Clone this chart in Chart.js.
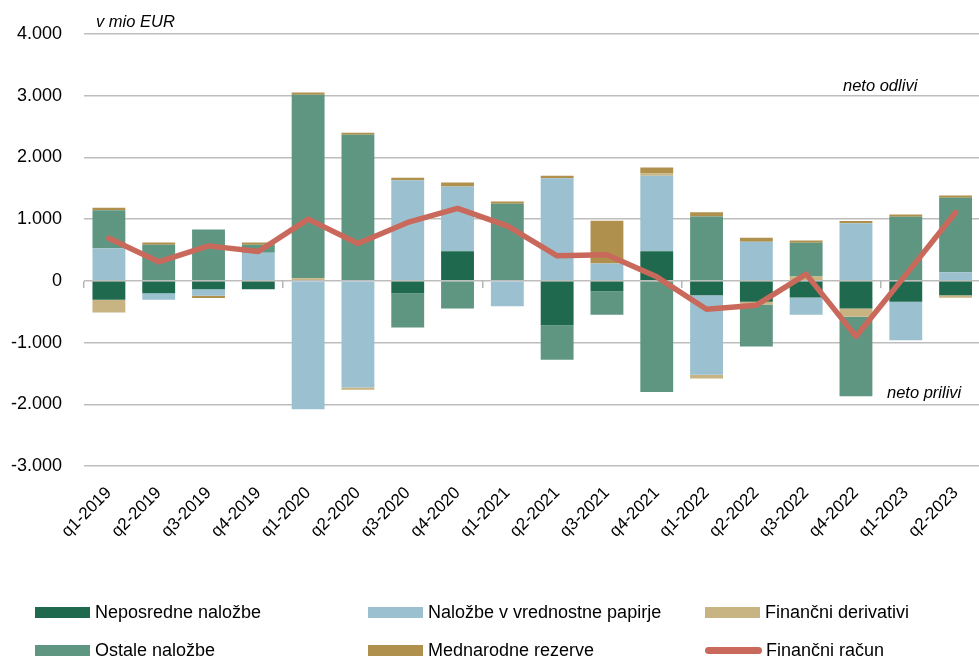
<!DOCTYPE html>
<html>
<head>
<meta charset="utf-8">
<script src="https://cdn.jsdelivr.net/npm/chart.js@4.4.0/dist/chart.umd.min.js"></script>
<style>
  html, body { margin: 0; padding: 0; background: #fff; overflow: hidden; width: 979px; height: 659px; }
  body { position: relative; font-family: "Liberation Sans", Arial, sans-serif; }
  #wrap { position: absolute; left: 0; top: 0; width: 987px; height: 575px; }
  .note { position: absolute; font-style: italic; font-size: 16.5px; color: #000; white-space: nowrap; line-height: 1; }
  #legend { position: absolute; left: 0; top: 0; width: 979px; height: 659px; pointer-events: none; }
  .li { position: absolute; display: flex; align-items: center; font-size: 18px; color: #000; white-space: nowrap; height: 24px; }
  .sw { width: 55px; height: 11px; margin-right: 5px; flex: none; }
  .ln { width: 57px; height: 7px; border-radius: 4px; margin-right: 4px; flex: none; }
</style>
</head>
<body>
<div id="wrap"><canvas id="c"></canvas></div>
<div class="note" style="left:96px; top:13px;">v mio EUR</div>
<div class="note" style="left:843px; top:77px;">neto odlivi</div>
<div class="note" style="left:887px; top:384px;">neto prilivi</div>
<div id="legend"></div>
<script>
const categories = ["q1-2019","q2-2019","q3-2019","q4-2019","q1-2020","q2-2020","q3-2020","q4-2020","q1-2021","q2-2021","q3-2021","q4-2021","q1-2022","q2-2022","q3-2022","q4-2022","q1-2023","q2-2023"];

const neposredneNalozbe = [-308,-199,-135,-135,0,0,-199,481,0,-718,-167,481,-232,-340,-269,-448,-340,-232];
const nalozbeVrednostnePapirje = [530,-109,-108,454,-2080,-1728,1632,1049,-410,1664,282,1221,-1291,632,-282,935,-621,141];
const financniDerivativi = [-205,0,0,0,44,-38,0,0,0,0,0,39,-59,-43,71,-135,0,-43];
const ostaleNalozbe = [616,584,833,130,2971,2366,-556,-448,1248,-562,-383,-1799,1043,-680,545,-1286,1037,1204];
const mednarodneRezerve = [37,38,-33,38,38,33,38,64,39,38,691,97,70,65,39,33,39,39];
const financniRacun = [692,308,567,476,1000,606,946,1173,891,405,422,65,-459,-394,109,-900,97,1108];

const yTicks = [-3000,-2000,-1000,0,1000,2000,3000,4000];

function fmt(v) {
  const s = Math.abs(v).toString().replace(/\B(?=(\d{3})+(?!\d))/g, ".");
  return (v < 0 ? "-" : "") + s;
}

const barCommon = { type: 'bar', stack: 's', borderWidth: 0, categoryPercentage: 0.66, barPercentage: 1, order: 2 };

const chart = new Chart(document.getElementById('c'), {
  data: {
    labels: categories,
    datasets: [
      Object.assign({ label: 'Neposredne naložbe', data: neposredneNalozbe, backgroundColor: '#1f6a4f' }, barCommon),
      Object.assign({ label: 'Naložbe v vrednostne papirje', data: nalozbeVrednostnePapirje, backgroundColor: '#9bc0cf' }, barCommon),
      Object.assign({ label: 'Finančni derivativi', data: financniDerivativi, backgroundColor: '#c8b482' }, barCommon),
      Object.assign({ label: 'Ostale naložbe', data: ostaleNalozbe, backgroundColor: '#5f9682' }, barCommon),
      Object.assign({ label: 'Mednarodne rezerve', data: mednarodneRezerve, backgroundColor: '#af904d' }, barCommon),
      { type: 'line', label: 'Finančni račun', data: financniRacun, borderColor: '#c9695c', backgroundColor: '#c9695c',
        borderWidth: 5.5, pointRadius: 0, tension: 0, fill: false, order: 1, borderCapStyle: 'round', borderJoinStyle: 'round' }
    ]
  },
  options: {
    responsive: true,
    maintainAspectRatio: false,
    animation: false,
    layout: { padding: { top: 34, right: 0, bottom: 0, left: 0 } },
    plugins: { legend: { display: false }, tooltip: { enabled: false } },
    scales: {
      x: {
        type: 'category',
        stacked: true,
        offset: true,
        grid: { display: false, drawTicks: false },
        border: { display: false },
        ticks: { color: '#000', font: { family: 'Liberation Sans', size: 17 }, minRotation: 45, maxRotation: 45, padding: 17, autoSkip: false },
        afterFit: s => { s.height = 109; }
      },
      x2: {
        type: 'category',
        position: { y: 0 },
        offset: true,
        grid: { display: true, drawOnChartArea: false, drawTicks: true, tickLength: 7, offset: true, lineWidth: 1.5,
                color: ctx => (ctx.index % 4 === 0 ? '#b5b5b5' : 'rgba(0,0,0,0)') },
        border: { display: false },
        ticks: { display: false }
      },
      y: {
        stacked: true,
        min: -3000,
        max: 4000,
        afterBuildTicks: s => { s.ticks = yTicks.map(v => ({ value: v })); },
        ticks: { color: '#000', font: { family: 'Liberation Sans', size: 18 }, padding: 22, callback: v => fmt(v) },
        grid: { color: '#bdbdbd', lineWidth: 1.5, drawTicks: false },
        border: { display: false },
        afterFit: s => { s.width = 84; }
      }
    }
  }
});

// HTML legend built from the chart's datasets
const legendPos = [
  [35, 600], [368, 600], [705, 600],
  [35, 638], [368, 638], [705, 638]
];
const legendEl = document.getElementById('legend');
chart.data.datasets.forEach((ds, i) => {
  const item = document.createElement('div');
  item.className = 'li';
  item.style.left = legendPos[i][0] + 'px';
  item.style.top = legendPos[i][1] + 'px';
  const sw = document.createElement('span');
  if (ds.type === 'line') { sw.className = 'ln'; sw.style.background = ds.borderColor; }
  else { sw.className = 'sw'; sw.style.background = ds.backgroundColor; }
  const tx = document.createElement('span');
  tx.textContent = ds.label;
  item.appendChild(sw); item.appendChild(tx);
  legendEl.appendChild(item);
});
</script>
</body>
</html>
